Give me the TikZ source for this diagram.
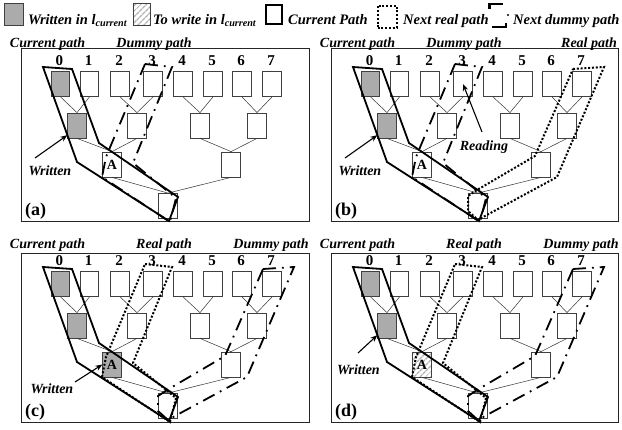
\documentclass[tikz,border=0pt]{standalone}
\usepackage{fontspec}
\setmainfont{Liberation Serif}
\usetikzlibrary{patterns,patterns.meta,arrows.meta}

\tikzset{
  tbox/.style={draw=black!75, line width=0.8pt, fill=white, minimum width=18.5pt,
               minimum height=25pt, inner sep=0pt,
               font=\fontsize{14}{16}\selectfont\bfseries},
  wbox/.style={tbox, fill=black!33},
  hbox/.style={tbox, fill=none, pattern={Lines[angle=45,distance=4pt,line width=1.5pt]},
               pattern color=black!30},
  tedge/.style={draw=black!80, line width=0.5pt},
  frame/.style={draw=black!85, line width=1pt},
  curpath/.style={draw=black, line width=1.8pt, line join=miter},
  realpath/.style={draw=black, line width=2pt, dash pattern=on 2pt off 1.8pt},
  dummypath/.style={draw=black, line width=1.8pt, dash pattern=on 13pt off 6pt on 1.8pt off 6pt},
  lbl/.style={font=\fontsize{14}{16}\selectfont\bfseries\itshape, inner sep=0pt, anchor=base},
  leg/.style={font=\fontsize{14.5}{16}\selectfont\bfseries\itshape, inner sep=0pt, anchor=base west},
  num/.style={font=\fontsize{15}{17}\selectfont\bfseries, inner sep=0pt, anchor=base},
  tag/.style={font=\fontsize{18}{20}\selectfont\bfseries, inner sep=0pt, anchor=base west},
  arr/.style={-{Stealth[length=7pt,width=5.5pt]}, line width=1.1pt},
}

% Binary tree of eight leaves; #1 = style of the level-2 left node, #2 = its text
\newcommand\drawtree[2]{%
  \foreach \i/\x in {0/60.5,1/89.5,2/120,3/153,4/183,5/213,6/242,7/272}{
    \node[num] (d\i) at (\x-1,65.5) {\i};
  }
  \node[wbox] (l0) at (60.5,84) {};
  \node[tbox] (l1) at (89.5,84) {};
  \node[tbox] (l2) at (120,84) {};
  \node[tbox] (l3) at (153,84) {};
  \node[tbox] (l4) at (183,84) {};
  \node[tbox] (l5) at (213,84) {};
  \node[tbox] (l6) at (242,84) {};
  \node[tbox] (l7) at (272,84) {};
  \node[wbox] (m0) at (77,125.5) {};
  \node[tbox] (m1) at (137,125.5) {};
  \node[tbox] (m2) at (200,125.5) {};
  \node[tbox] (m3) at (257,125.5) {};
  \node[#1] (n0) at (112,164.5) {#2};
  \node[tbox] (n1) at (231,164.5) {};
  \node[tbox] (rt) at (168,206) {};
  \foreach \c/\p in {l0/m0,l1/m0,l2/m1,l3/m1,l4/m2,l5/m2,l6/m3,l7/m3,
                     m0/n0,m1/n0,m2/n1,m3/n1,n0/rt,n1/rt}{
    \draw[tedge] (\c.south) -- (\p.north);
  }
}

% outlines of the paths to leaf 0, leaf 3 and leaf 7
\newcommand\pathzero{(43,67) -- (72,69) -- (99,143) -- (178,197) -- (169,221) -- (77,162) -- cycle}
\newcommand\paththree{(145,64) -- (172,67) -- (133,163) -- (176,198) -- (170,222) -- (102,177) -- (106,157) -- cycle}
\newcommand\pathseven{(263,69) -- (294,67) -- (247,177) -- (175,216) -- (168,220) -- (158,211) -- (158,196) -- (167,190) -- (225,156) -- cycle}

\begin{document}
\begin{tikzpicture}[x=1pt,y=-1pt]
\useasboundingbox (0,0) rectangle (622,429);

% legend
\node[wbox, minimum width=19pt, minimum height=22pt] (kw) at (13.5,14) {};
\node[leg] (tw) at (28,24) {Written in l\textsubscript{current}};
\node[hbox, minimum width=17pt, minimum height=22pt] (kh) at (141.5,14) {};
\node[leg] (th) at (153,24) {To write in l\textsubscript{current}};
\node[draw=black, line width=2.4pt, minimum width=16pt, minimum height=19pt, inner sep=0pt] (kc) at (274,14.5) {};
\node[leg] (tc) at (288,24) {Current Path};
\node[realpath, minimum width=19pt, minimum height=22pt, inner sep=0pt] (kr) at (387,16.5) {};
\node[leg] (tr) at (403,24) {Next real path};
\draw[line width=2.2pt] (489.5,8.5) |- (503,4);
\fill (508,15) circle (1.1pt);
\draw[line width=2.2pt] (492,27) -| (506,22.5);
\node[leg] (td) at (513,24) {Next dummy path};

% panel (a)
\begin{scope}[name prefix=a-]
  \draw[frame] (21,48) rectangle (309,221);
  \drawtree{tbox}{A}
  \node[lbl] (h1) at (47.5,47.5) {Current path};
  \node[lbl] (h2) at (154,47.5) {Dummy path};
  \node[tag] (tg) at (25,215) {(a)};
  \node[lbl] (w) at (50,175) {Written};
  \coordinate (ws) at (35,158);
  \draw[arr] (ws) -- (m0.225);
  \draw[dummypath] \paththree;
  \draw[curpath] \pathzero;
\end{scope}

% panel (b)
\begin{scope}[shift={(310,0)}, name prefix=b-]
  \draw[frame] (21,48) rectangle (308,221);
  \drawtree{tbox}{A}
  \node[lbl] (h1) at (47.5,47.5) {Current path};
  \node[lbl] (h2) at (154,47.5) {Dummy path};
  \node[lbl] (h3) at (279,47.5) {Real path};
  \node[tag] (tg) at (25,215) {(b)};
  \node[lbl] (w) at (50,175) {Written};
  \coordinate (ws) at (35,158);
  \draw[arr] (ws) -- (m0.225);
  \node[lbl] (rd) at (174,150) {Reading};
  \coordinate (rs) at (172,132);
  \draw[arr] (rs) -- (l3.center);
  \draw[dummypath] \paththree;
  \draw[realpath] \pathseven;
  \draw[curpath] \pathzero;
\end{scope}

% panel (c)
\begin{scope}[shift={(0,200)}, name prefix=c-]
  \draw[frame] (21,53) rectangle (309,222);
  \drawtree{wbox}{A}
  \node[lbl] (h1) at (47.5,48) {Current path};
  \node[lbl] (h2) at (164,48) {Real path};
  \node[lbl] (h3) at (271,48) {Dummy path};
  \node[tag] (tg) at (25,216) {(c)};
  \node[lbl] (w) at (52,193) {Written};
  \coordinate (ws) at (75,182);
  \draw[arr] (ws) -- (n0.west);
  \draw[dummypath] \pathseven;
  \draw[realpath] \paththree;
  \draw[curpath] \pathzero;
\end{scope}

% panel (d)
\begin{scope}[shift={(310,200)}, name prefix=d-]
  \draw[frame] (21,53) rectangle (308,222);
  \drawtree{hbox}{A}
  \node[lbl] (h1) at (47.5,48) {Current path};
  \node[lbl] (h2) at (164,48) {Real path};
  \node[lbl] (h3) at (271,48) {Dummy path};
  \node[tag] (tg) at (25,216) {(d)};
  \node[lbl] (w) at (48.5,174) {Written};
  \coordinate (ws) at (48,153);
  \draw[arr] (ws) -- (m0.225);
  \draw[dummypath] \pathseven;
  \draw[realpath] \paththree;
  \draw[curpath] \pathzero;
\end{scope}
\end{tikzpicture}
\end{document}
